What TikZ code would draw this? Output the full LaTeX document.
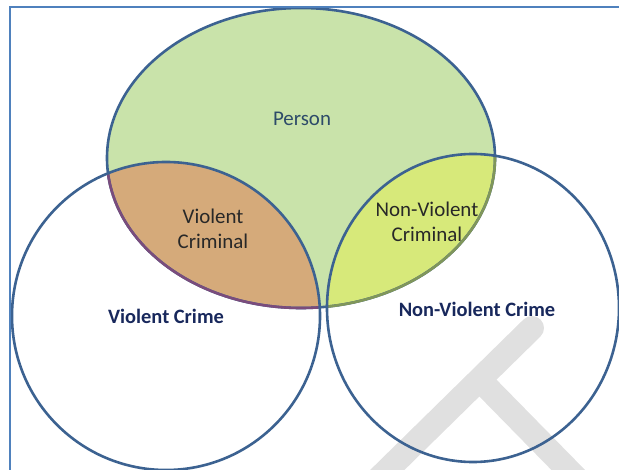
\documentclass[tikz,border=0pt]{standalone}
\usepackage{fontspec}
\setmainfont{Carlito}
\usetikzlibrary{positioning}
\definecolor{framecol}{RGB}{79, 129, 189}
\definecolor{setcol}{RGB}{60, 98, 145}
\definecolor{personcol}{RGB}{201, 227, 170}
\definecolor{violcol}{RGB}{213, 170, 122}
\definecolor{nonvcol}{RGB}{215, 233, 122}
\definecolor{violedge}{RGB}{122, 76, 124}
\definecolor{nonvedge}{RGB}{128, 150, 90}
\definecolor{wmcol}{RGB}{224, 224, 224}
\definecolor{innertxt}{RGB}{40, 40, 40}
\definecolor{persontxt}{RGB}{45, 75, 105}
\definecolor{crimetxt}{RGB}{24, 40, 92}
\tikzset{
  frameline/.style = {draw=framecol, line width=2bp},
  setedge/.style   = {draw=setcol, line width=2.6bp},
  wmband/.style    = {draw=wmcol, line width=24bp, line cap=round},
  persontext/.style = {font=\fontsize{21}{25}\selectfont, text=persontxt,
                       inner sep=0pt},
  inner/.style     = {font=\fontsize{21}{25}\selectfont, text=innertxt,
                      align=center, inner sep=0pt},
  crime/.style     = {font=\fontsize{20.5}{24}\selectfont\bfseries,
                      text=crimetxt, inner sep=0pt},
  % the three sets
  personset/.style = {x radius=194bp, y radius=150bp},
  violset/.style   = {radius=154bp},
  nonvset/.style   = {x radius=146bp, y radius=154bp},
}

\begin{document}
\begin{tikzpicture}[x=1bp, y=-1bp]
  \useasboundingbox (0,0) rectangle (619,470);

  \coordinate (pc) at (301,158);
  \coordinate (vc) at (166,316);
  \coordinate (nc) at (473,308);

  %% ---------------- watermark ----------------
  \draw[wmband] (372,485) -- (532,328);
  \draw[wmband] (480,380) -- (580,482);

  %% ---------------- fills ----------------
  \fill[personcol] (pc) ellipse [personset];
  \begin{scope}
    \clip (vc) circle [violset];
    \fill[violcol] (pc) ellipse [personset];
  \end{scope}
  \begin{scope}
    \clip (nc) ellipse [nonvset];
    \fill[nonvcol] (pc) ellipse [personset];
  \end{scope}

  %% ---------------- outlines ----------------
  \draw[setedge] (pc) ellipse [personset];
  \begin{scope}
    \clip (vc) circle [violset];
    \draw[setedge, draw=violedge] (pc) ellipse [personset];
  \end{scope}
  \begin{scope}
    \clip (nc) ellipse [nonvset];
    \draw[setedge, draw=nonvedge] (pc) ellipse [personset];
  \end{scope}
  \draw[setedge] (vc) circle [violset];
  \draw[setedge] (nc) ellipse [nonvset];

  \draw[frameline] (10,480) |- (630,7);

  %% ---------------- labels ----------------
  \node[persontext] (person) at (302,119) {Person};
  \node[inner] (violent) at (213,229) {Violent\\Criminal};
  \node[inner] (nonviolent) at (427,222) {Non-Violent\\Criminal};
  \node[crime] (vcrime) at (166,316) {Violent Crime};
  \node[crime] (nvcrime) at (477,309) {Non-Violent Crime};

\end{tikzpicture}
\end{document}
